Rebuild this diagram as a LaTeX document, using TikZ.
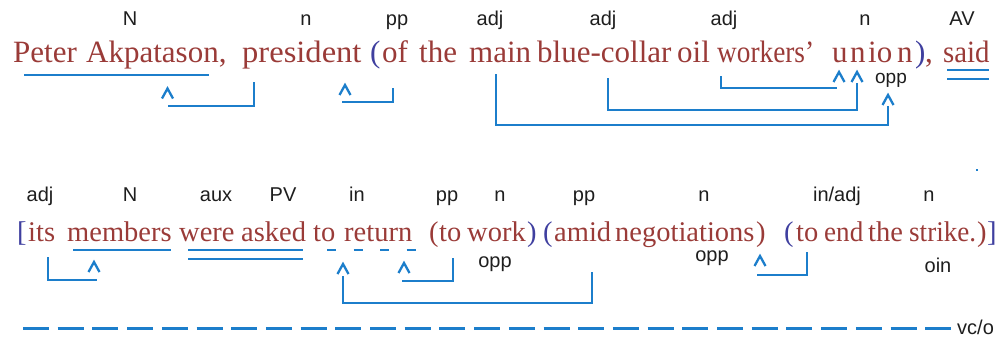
\documentclass[tikz,border=0pt]{standalone}
\usepackage{fontspec}
\setmainfont{Liberation Serif}
\newfontfamily\labfont{Liberation Sans}
\newfontfamily\narrowserif[FakeStretch=0.95]{Liberation Serif}
\definecolor{wred}{HTML}{9A3B38}
\definecolor{pblue}{HTML}{3F3F9F}
\definecolor{lblue}{HTML}{1C7ECB}
\definecolor{labc}{HTML}{1E1E1E}
\begin{document}
\begin{tikzpicture}[x=1pt,y=-1pt,
  wd/.style={anchor=base west, inner sep=0pt, text=wred, font=\fontsize{31}{31}\selectfont},
  pr/.style={wd, text=pblue},
  wdb/.style={anchor=base west, inner sep=0pt, text=wred, font=\fontsize{28.5}{28.5}\selectfont},
  wdn/.style={wdb, font=\narrowserif\fontsize{28.5}{28.5}\selectfont},
  prb/.style={wdb, text=pblue},
  lb/.style={anchor=base, inner sep=0pt, text=labc, font=\labfont\fontsize{20}{20}\selectfont},
  ln/.style={draw=lblue, line width=1.8pt},
  ul/.style={draw=lblue, line width=1.5pt},
  pics/caret/.style={code={\draw[lblue, line width=2.3pt, line join=miter] (-5.5,5) -- (0,-5) -- (5.5,5);}}]
\useasboundingbox (0,0) rectangle (1000,337);

% ---------- line 1 labels ----------
\node[lb] (l1a) at (130,26) {N};
\node[lb] (l1b) at (306,26) {n};
\node[lb] (l1c) at (397,26) {pp};
\node[lb] (l1d) at (490,26) {adj};
\node[lb] (l1e) at (603,26) {adj};
\node[lb] (l1f) at (724,26) {adj};
\node[lb] (l1g) at (865,26) {n};
\node[lb] (l1h) at (962,26) {AV};

% ---------- line 1 words ----------
\node[wd] (a1) at (13,63) {Peter};
\node[wd] (a2) at (86,63) {Akpatason,};
\node[wd] (a3) at (242,63) {\scalebox{1.05}[1]{president}};
\node[pr] (a4) at (370,63) {(};
\node[wd] (a5) at (382,63) {of};
\node[wd] (a6) at (419,63) {the};
\node[wd] (a7) at (469,63) {main};
\node[wd] (a8) at (537,63) {blue-collar};
\node[wd] (a9) at (677,63) {oil};
\node[wd] (a10) at (717,63) {\scalebox{0.88}[1]{workers’}};
\node[wd] (a11) at (832,63) {u};
\node[wd] (a12) at (850,63) {n};
\node[wd] (a13) at (868,63) {io};
\node[wd] (a14) at (897,63) {n};
\node[pr] (a15) at (915,63) {)};
\node[wd] (a16) at (925,63) {,};
\node[wd] (a17) at (943,63) {\scalebox{0.93}[1]{said}};
\node[lb, font=\labfont\fontsize{19}{19}\selectfont] (o1) at (891,83) {opp};

% ---------- line 1 marks ----------
\draw[ul] (24,75) -- (209,75);
\draw[ul] (947,70) -- (989,70);
\draw[ul] (947,79) -- (989,79);
\pic at (167.5,93.5) {caret};
\draw[ln] (168,106) -- (254,106) -- (254,82);
\pic at (345,90) {caret};
\draw[ln] (342,102) -- (393,102) -- (393,88);
\draw[ln] (496,74) -- (496,125) -- (888,125) -- (888,106);
\pic at (888,100) {caret};
\draw[ln] (608,78) -- (608,110) -- (857,110) -- (857,83);
\pic at (857,77) {caret};
\draw[ln] (721,76) -- (721,88) -- (837,88);
\pic at (839,77) {caret};

% small dot
\fill[lblue] (976,169) rectangle (978,171);

% ---------- line 2 labels ----------
\node[lb] (m1) at (40,201) {adj};
\node[lb] (m2) at (130,201) {N};
\node[lb] (m3) at (216,201) {aux};
\node[lb] (m4) at (283,201) {PV};
\node[lb] (m5) at (357,201) {in};
\node[lb] (m6) at (447,201) {pp};
\node[lb] (m7) at (500,201) {n};
\node[lb] (m8) at (584,201) {pp};
\node[lb] (m9) at (704,201) {n};
\node[lb] (m10) at (837,201) {in/adj};
\node[lb] (m11) at (929,201) {n};

% ---------- line 2 words ----------
\node[prb] (b1) at (17,241) {[};
\node[wdb] (b2) at (28,241) {its};
\node[wdb] (b3) at (67,241) {members};
\node[wdb] (b4) at (179,241) {were};
\node[wdb] (b5) at (241,241) {asked};
\node[wdb] (b6) at (313,241) {to};
\node[wdb] (b7) at (344,241) {return};
\node[wdb] (b8) at (429,241) {(};
\node[wdb] (b9) at (439,241) {to};
\node[wdb] (b10) at (467,241) {work};
\node[prb] (b11) at (527,241) {)};
\node[prb] (b12) at (543,241) {(};
\node[wdb] (b13) at (554,241) {amid};
\node[wdb] (b14) at (615,241) {negotiations};
\node[wdb] (b15) at (756,241) {)};
\node[prb] (b16) at (784,241) {(};
\node[wdb] (b17) at (796,241) {to};
\node[wdn] (b18) at (824,241) {end};
\node[wdb] (b19) at (868,241) {the};
\node[wdn] (b20) at (909,241) {strike.};
\node[wdb] (b21) at (977,241) {)};
\node[prb] (b22) at (987,241) {]};

\node[lb] (o2) at (495,267) {opp};
\node[lb] (o3) at (712,261) {opp};
\node[lb] (o4) at (938,272) {oin};

% ---------- line 2 marks ----------
\draw[ul] (73,250) -- (171,250);
\draw[ul] (188,250) -- (303,250);
\draw[ul] (188,259) -- (303,259);
\draw[ul, dash pattern=on 9pt off 17.5pt] (327,250) -- (418,250);
\pic at (94,267) {caret};
\draw[ln] (48,257) -- (48,280) -- (97,280);
\pic at (343,269) {caret};
\draw[ln] (343,276) -- (343,303) -- (592,303) -- (592,272);
\pic at (404,268) {caret};
\draw[ln] (402,281) -- (453,281) -- (453,258);
\pic at (760,261) {caret};
\draw[ln] (757,275) -- (807,275) -- (807,252);

% ---------- bottom dashed line ----------
\coordinate (d0) at (23,328);
\coordinate (d1) at (951,328);
\draw[draw=lblue, line width=3pt, dash pattern=on 26pt off 8.7pt] (d0) -- (d1);
\node[lb, anchor=base west] (vco) at (957,334) {vc/o};
\end{tikzpicture}
\end{document}
